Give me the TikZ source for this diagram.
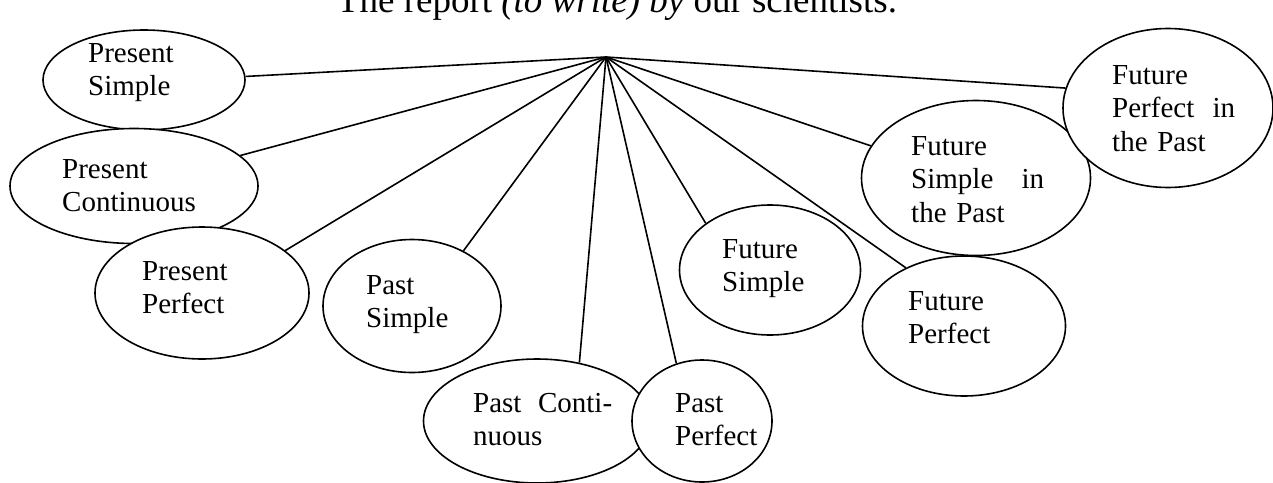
\documentclass[tikz,border=0pt]{standalone}
\usepackage{fontspec}
\setmainfont{Liberation Serif}
\usetikzlibrary{shapes.geometric}
\tikzset{
  tense/.style={ellipse, draw, fill=white, line width=1.6pt, inner sep=0pt},
  tensetext/.style={anchor=base west, inner sep=0pt, text width=150pt, align=left,
    font=\fontsize{29}{33.8}\selectfont},
  spoke/.style={line width=1.6pt},
}
\begin{document}
\begin{tikzpicture}[x=1pt, y=-1pt]
\useasboundingbox (0,0) rectangle (1273,482);

% heading (its upper part runs off the page)
\node[anchor=base, inner sep=0pt, font=\fontsize{37}{44}\selectfont] (title) at (617,12)
  {The report \textit{(to write) by} our scientists.};

% common point of all spokes
\coordinate (hub) at (606,57);

% ellipse outlines, later ones lying over earlier ones
\path
  node[tense, minimum width=202pt, minimum height=100pt] (ps)  at (144,80)  {}
  node[tense, minimum width=248pt, minimum height=115pt] (pc)  at (134,186) {}
  node[tense, minimum width=214pt, minimum height=132pt] (pp)  at (202,293) {}
  node[tense, minimum width=178pt, minimum height=133pt] (pas) at (412,306) {}
  node[tense, minimum width=227pt, minimum height=124pt] (pac) at (537,421) {}
  node[tense, minimum width=140pt, minimum height=122pt] (pap) at (702,421) {}
  node[tense, minimum width=181pt, minimum height=130pt] (fs)  at (770,270) {}
  node[tense, minimum width=203pt, minimum height=140pt] (fp)  at (964,326) {}
  node[tense, minimum width=229pt, minimum height=155pt] (fsp) at (976,178) {}
  node[tense, minimum width=210pt, minimum height=159pt] (fpp) at (1168,108) {};

% spokes from the common point to each ellipse
\draw[spoke] (hub) -- (ps.2);
\draw[spoke] (hub) -- (pc.16);
\draw[spoke] (hub) -- (pp.27);
\draw[spoke] (hub) -- (pas.47);
\draw[spoke] (hub) -- (pac.54);
\draw[spoke] (hub) -- (pap.114);
\draw[spoke] (hub) -- (fs.144);
\draw[spoke] (hub) -- (fp.135);
\draw[spoke] (hub) -- (fsp.163);
\draw[spoke] (hub) -- (fpp.169);

% tense names
\node[tensetext] (tps)  at (88,62)   {Present\\Simple};
\node[tensetext] (tpc)  at (62,178)  {Present\\Continuous};
\node[tensetext] (tpp)  at (142,280) {Present\\Perfect};
\node[tensetext] (tpas) at (366,294) {Past\\Simple};
\node[tensetext] (tpac) at (473,412) {\makebox[139pt][s]{Past\hfill Conti-}\\nuous};
\node[tensetext] (tpap) at (675,412) {Past\\Perfect};
\node[tensetext] (tfs)  at (722,258) {Future\\Simple};
\node[tensetext] (tfp)  at (908,310) {Future\\Perfect};
\node[tensetext] (tfsp) at (911,155) {Future\\\makebox[133pt][s]{Simple\hfill in}\\the Past};
\node[tensetext] (tfpp) at (1112,84) {Future\\\makebox[123pt][s]{Perfect\hfill in}\\the Past};
\end{tikzpicture}
\end{document}
